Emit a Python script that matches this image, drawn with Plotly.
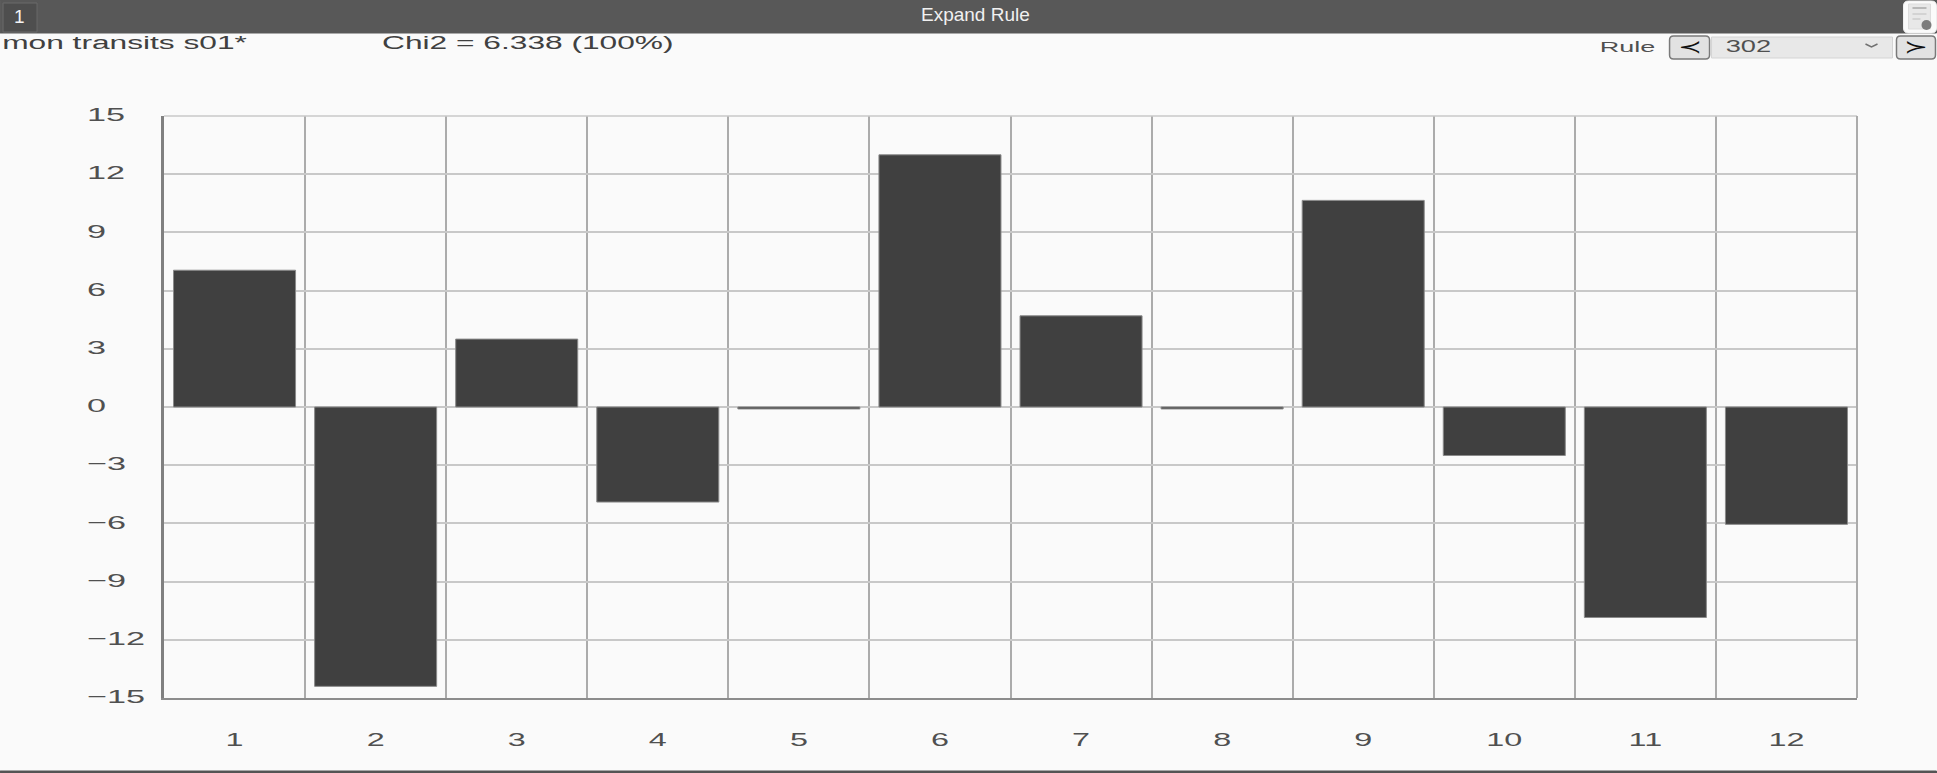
import json
import plotly.graph_objects as go

categories = list(range(1, 13))
values = [7.05, -14.4, 3.5, -4.9, -0.1, 13.0, 4.7, -0.1, 10.65, -2.5, -10.85, -6.05]
y_ticks = [15, 12, 9, 6, 3, 0, -3, -6, -9, -12, -15]
y_labels = ["15", "12", "9", "6", "3", "0", "\u22123", "\u22126", "\u22129", "\u221212", "\u221215"]
boundaries = [c + 0.5 for c in categories[:-1]]
title_left = "mon transits s01*"
title_mid = "Chi2 = 6.338 (100%)"
header = "Expand Rule"
tab_label = "1"
rule_label = "Rule"
rule_value = "302"
prev_glyph = "\u227a"
next_glyph = "\u227b"

W, H = 1937, 773
L, R, T, B = 164, 1857.5, 116, 698
FONT = "Liberation Sans"

# horizontal stretch of the reference's text, which was squeezed vertically
STRETCH_X = 1.7
STRETCH_Y = 1.8
STRETCH_TEXT = {title_left: 1.76, title_mid: 1.76, rule_label: 1.8, rule_value: 1.7,
                prev_glyph: 1.6, next_glyph: 1.6}
Y_LABEL_LEFT = 87
Y_LABEL_LIFT = 1.5


def px(x):
    return (x - L) / (R - L)


def py(y):
    return (B - y) / (B - T)


def rect(x0, y0, x1, y1, fill, line=None, lw=1):
    return dict(type="rect", xref="paper", yref="paper", x0=px(x0), x1=px(x1), y0=py(y0), y1=py(y1),
                fillcolor=fill, line=dict(color=line or fill, width=lw), layer="above")


def rounded(x0, y0, x1, y1, r, fill, line=None, lw=1):
    pts = [("M", x0 + r, y0), ("L", x1 - r, y0), ("Q", x1, y0, x1, y0 + r), ("L", x1, y1 - r),
           ("Q", x1, y1, x1 - r, y1), ("L", x0 + r, y1), ("Q", x0, y1, x0, y1 - r), ("L", x0, y0 + r),
           ("Q", x0, y0, x0 + r, y0)]
    d = []
    for p in pts:
        coords = p[1:]
        xy = [f"{px(coords[i])},{py(coords[i + 1])}" for i in range(0, len(coords), 2)]
        d.append(p[0] + " " + " ".join(xy))
    return dict(type="path", xref="paper", yref="paper", path=" ".join(d) + " Z",
                fillcolor=fill, line=dict(color=line or fill, width=lw), layer="above")


def polyline(points, color, lw=1.5):
    d = " ".join(("M " if i == 0 else "L ") + f"{px(x)},{py(y)}" for i, (x, y) in enumerate(points))
    return dict(type="path", xref="paper", yref="paper", path=d, line=dict(color=color, width=lw), layer="above")


def label(text, x, y, size, color="#404040"):
    return dict(text=text, x=px(x), y=py(y), xref="paper", yref="paper", showarrow=False,
                xanchor="center", yanchor="middle", font=dict(size=size, color=color, family=FONT))


fig = go.Figure(go.Bar(
    x=categories, y=values, width=0.865,
    marker=dict(color="#404040", line=dict(color="#8a8a8a", width=1)),
    showlegend=False,
))

shapes = [
    rect(0, 0, W, 33, "#585858"),
    rect(3, 3, 37, 32, "#4e4e4e", "#6a6a6a"),
    rounded(1904, 1, 1937, 33, 5, "#fbfbfb", "#f0f0f0"),
    rect(1909, 4, 1931, 29, "#e8e8e8", "#dddddd"),
    polyline([(1913, 8), (1927, 8)], "#b8b8b8", 2),
    polyline([(1913, 14), (1927, 14)], "#cccccc", 1.5),
    polyline([(1913, 19), (1921, 19)], "#cccccc", 1.5),
    dict(type="circle", xref="paper", yref="paper", x0=px(1922), x1=px(1932), y0=py(20), y1=py(30),
         fillcolor="#7c7c7c", line=dict(color="#7c7c7c", width=0), layer="above"),
    rounded(1670, 36, 1710, 59, 4, "#e2e2e2", "#7a7a7a", 1.5),
    rect(1712, 37, 1893, 58, "#e8e8e8", "#d4d4d4"),
    polyline([(1866, 44), (1872, 47), (1878, 44)], "#707070", 1.5),
    rounded(1897, 36, 1936, 59, 4, "#e2e2e2", "#7a7a7a", 1.5),
    rect(0, 771, W, 773, "#555555"),
    polyline([(L, T), (R, T)], "#c8c8c8", 1.5),
    polyline([(R, T), (R, B)], "#ababab", 2),
]

annotations = [
    label(tab_label, 19, 17, 19, "#f4f4f4"),
    label(header, 976, 15, 19, "#f0f0f0"),
    label(title_left, 124, 43, 18),
    label(title_mid, 528, 43, 18),
    label(rule_label, 1628, 47, 15, "#505050"),
    label(rule_value, 1749, 47, 16, "#505050"),
    label(prev_glyph, 1690, 47, 18, "#111111"),
    label(next_glyph, 1916, 47, 18, "#111111"),
]

fig.update_layout(
    width=W, height=H, autosize=False,
    margin=dict(l=L, r=W - R, t=T, b=H - B, pad=0),
    paper_bgcolor="#fafafa", plot_bgcolor="#fafafa",
    font=dict(family=FONT, color="#505050", size=19),
    shapes=shapes, annotations=annotations,
    xaxis=dict(
        range=[0.5, 12.5], tickmode="array", tickvals=categories, ticktext=[str(c) for c in categories],
        showgrid=False, zeroline=False, ticks="outside", ticklen=23, tickcolor="rgba(0,0,0,0)",
        showline=True, linecolor="#8c8c8c", linewidth=2, mirror=False,
        minor=dict(tickmode="array", tickvals=boundaries, showgrid=True, gridcolor="#ababab", gridwidth=2, ticks=""),
        tickfont=dict(size=19, color="#505050", family=FONT),
    ),
    yaxis=dict(
        range=[-15, 15], tickmode="array", tickvals=y_ticks, ticktext=y_labels,
        showgrid=True, gridcolor="#c8c8c8", gridwidth=1.5, zeroline=False,
        ticks="outside", ticklen=26, tickcolor="rgba(0,0,0,0)",
        showline=True, linecolor="#808080", linewidth=2.5,
        tickfont=dict(size=19, color="#505050", family=FONT),
    ),
)

post = """
document.body.style.margin='0';document.body.style.overflow='hidden';
var SX=%s, SY=%s, TX=%s, YL=%s, LIFT=%s;
function st(el,k){el.setAttribute('textLength',el.getComputedTextLength()*k);el.setAttribute('lengthAdjust','spacingAndGlyphs');}
document.querySelectorAll('.xtick text').forEach(function(e){st(e,SX);});
document.querySelectorAll('.ytick text').forEach(function(e){
  st(e,SY);
  var x=parseFloat(e.getAttribute('x'))||0, y=parseFloat(e.getAttribute('y'))||0;
  e.setAttribute('x',x+(YL-e.getBoundingClientRect().left));
  e.setAttribute('y',y-LIFT);
});
document.querySelectorAll('text.annotation-text').forEach(function(e){
  var k=TX[e.textContent]; if(k){st(e,k);}
});
""" % (json.dumps(STRETCH_X), json.dumps(STRETCH_Y), json.dumps(STRETCH_TEXT), json.dumps(Y_LABEL_LEFT), json.dumps(Y_LABEL_LIFT))

fig.write_html("out.html", config=dict(displayModeBar=False), post_script=post)
